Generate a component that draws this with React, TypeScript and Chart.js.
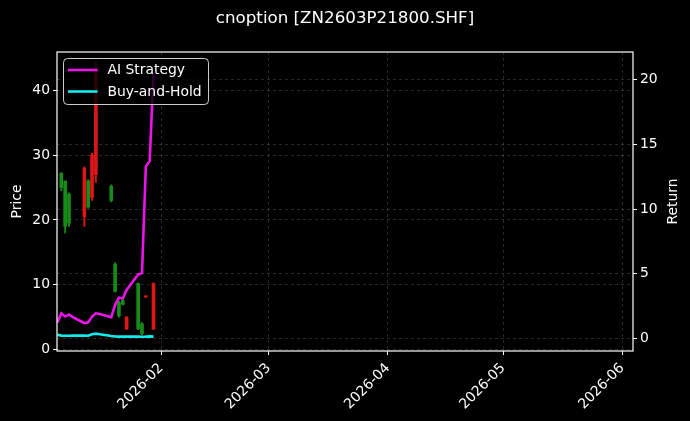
import React, { useEffect, useRef } from "react";
import { Chart, registerables } from "chart.js";

Chart.register(...registerables);

// ---- data ----
const candleDates = [
  "2026-01-06", "2026-01-07", "2026-01-08", "2026-01-12", "2026-01-13", "2026-01-14",
  "2026-01-15", "2026-01-19", "2026-01-20", "2026-01-21", "2026-01-22", "2026-01-23",
  "2026-01-26", "2026-01-27", "2026-01-28", "2026-01-30",
];
const openVals = [25.0, 19.0, 19.5, 28.0, 22.0, 30.0, 43.5, 23.0, 9.0, 5.2, 7.0, 5.0, 3.2, 2.5, 8.3, 10.2];
const highVals = [27.3, 26.0, 24.2, 28.2, 26.2, 30.3, 44.3, 25.4, 13.4, 7.5, 7.8, 5.1, 10.3, 4.2, 8.3, 10.3];
const lowVals = [24.5, 18.0, 19.0, 19.0, 21.8, 23.0, 25.8, 22.8, 8.9, 5.0, 6.9, 3.1, 3.1, 2.3, 8.1, 3.1];
const closeVals = [27.2, 26.0, 24.0, 20.5, 26.0, 23.5, 27.0, 25.2, 13.2, 7.3, 7.6, 3.2, 10.2, 4.0, 8.1, 3.2];

const lineDates = [
  "2026-01-05", "2026-01-06", "2026-01-07", "2026-01-08", "2026-01-09", "2026-01-12",
  "2026-01-13", "2026-01-14", "2026-01-15", "2026-01-16", "2026-01-19", "2026-01-20",
  "2026-01-21", "2026-01-22", "2026-01-23", "2026-01-26", "2026-01-27", "2026-01-28",
  "2026-01-29", "2026-01-30",
];
const aiStrategy = [1.25, 1.95, 1.7, 1.85, 1.65, 1.2, 1.25, 1.7, 1.95, 1.9, 1.65, 2.6, 3.15, 3.1, 3.75, 4.95, 5.05, 13.3, 13.7, 20.5];
const buyAndHold = [0.3, 0.23, 0.22, 0.22, 0.23, 0.23, 0.22, 0.33, 0.38, 0.33, 0.2, 0.17, 0.15, 0.15, 0.15, 0.15, 0.14, 0.15, 0.17, 0.15];

const monthTickDates = ["2026-02-01", "2026-03-01", "2026-04-01", "2026-05-01", "2026-06-01"];
const monthTickLabels = ["2026-02", "2026-03", "2026-04", "2026-05", "2026-06"];
const priceTicks = [0, 10, 20, 30, 40];
const returnTicks = [0, 5, 10, 15, 20];

const titleText = "cnoption [ZN2603P21800.SHF]";
const legendLabels = ["AI Strategy", "Buy-and-Hold"];

// ---- helpers ----
const dayNum = (s: string) => {
  const [y, m, d] = s.split("-").map(Number);
  return (Date.UTC(y, m - 1, d) - Date.UTC(2026, 0, 1)) / 86400000;
};

const UP = "rgb(24,140,24)";
const DOWN = "rgb(222,22,22)";
const MAGENTA = "rgb(235,20,235)";
const CYAN = "rgb(20,235,235)";
const FONT = "'DejaVu Sans', sans-serif";
const FS = 13.9;

export default function App() {
  const ref = useRef<HTMLCanvasElement | null>(null);

  useEffect(() => {
    document.body.style.margin = "0";
    document.body.style.background = "#000";
    const canvas = ref.current;
    if (!canvas) return;

    const colors = openVals.map((o, i) => (closeVals[i] >= o ? UP : DOWN));
    const wickData = candleDates.map((d, i) => ({ x: dayNum(d), y: [lowVals[i], highVals[i]] }));
    const bodyData = candleDates.map((d, i) => {
      let a = openVals[i], b = closeVals[i];
      if (Math.abs(a - b) < 0.15) { b = a - 0.15; }
      return { x: dayNum(d), y: [Math.min(a, b), Math.max(a, b)] };
    });

    const decor = {
      id: "decor",
      beforeDraw(chart: any) {
        const c = chart.ctx;
        c.save();
        c.fillStyle = "#000";
        c.fillRect(0, 0, chart.width, chart.height);
        c.restore();
      },
      afterDraw(chart: any) {
        const c = chart.ctx;
        const a = chart.chartArea;
        c.save();
        // frame
        c.strokeStyle = "#fff";
        c.lineWidth = 1.2;
        c.strokeRect(a.left, a.top, a.right - a.left, a.bottom - a.top);
        // title
        c.fillStyle = "#fff";
        c.font = `16.7px ${FONT}`;
        c.textAlign = "center";
        c.textBaseline = "middle";
        c.fillText(titleText, chart.width / 2, 18.5);
        // axis titles
        c.font = `${FS}px ${FONT}`;
        c.save();
        c.translate(17, (a.top + a.bottom) / 2);
        c.rotate(-Math.PI / 2);
        c.fillText("Price", 0, 0);
        c.restore();
        c.save();
        c.translate(673, (a.top + a.bottom) / 2);
        c.rotate(-Math.PI / 2);
        c.fillText("Return", 0, 0);
        c.restore();
        // legend
        const lx = a.left + 6.5, ly = a.top + 6.5, lw = 145, lh = 46, r = 4;
        c.beginPath();
        c.moveTo(lx + r, ly);
        c.arcTo(lx + lw, ly, lx + lw, ly + lh, r);
        c.arcTo(lx + lw, ly + lh, lx, ly + lh, r);
        c.arcTo(lx, ly + lh, lx, ly, r);
        c.arcTo(lx, ly, lx + lw, ly, r);
        c.closePath();
        c.fillStyle = "rgba(0,0,0,0.8)";
        c.fill();
        c.strokeStyle = "rgba(255,255,255,0.8)";
        c.lineWidth = 1;
        c.stroke();
        const cols = [MAGENTA, CYAN];
        legendLabels.forEach((t, i) => {
          const yy = ly + 11.5 + i * 21.5;
          c.strokeStyle = cols[i];
          c.lineWidth = 2.6;
          c.beginPath();
          c.moveTo(lx + 4.5, yy);
          c.lineTo(lx + 34, yy);
          c.stroke();
          c.fillStyle = "#fff";
          c.font = `${FS}px ${FONT}`;
          c.textAlign = "left";
          c.textBaseline = "middle";
          c.fillText(t, lx + 44, yy + 0.5);
        });
        c.restore();
      },
    };

    const gridCommon = {
      color: "rgba(255,255,255,0.2)",
      lineWidth: 0.8,
      tickColor: "#fff",
      tickLength: 4,
      tickWidth: 1,
      tickBorderDash: [],
      offset: false,
    };

    const chart = new Chart(canvas, {
      type: "bar",
      data: {
        datasets: [
          {
            type: "line",
            label: legendLabels[0],
            data: lineDates.map((d, i) => ({ x: dayNum(d), y: aiStrategy[i] })),
            yAxisID: "y1",
            borderColor: MAGENTA,
            borderWidth: 2.6,
            pointRadius: 0,
            tension: 0,
            order: 0,
          } as any,
          {
            type: "line",
            label: legendLabels[1],
            data: lineDates.map((d, i) => ({ x: dayNum(d), y: buyAndHold[i] })),
            yAxisID: "y1",
            borderColor: CYAN,
            borderWidth: 2.6,
            pointRadius: 0,
            tension: 0,
            order: 0,
          } as any,
          {
            type: "bar",
            label: "body",
            data: bodyData as any,
            yAxisID: "y",
            backgroundColor: colors,
            borderWidth: 0,
            barThickness: 3,
            grouped: false,
            order: 2,
          } as any,
          {
            type: "bar",
            label: "wick",
            data: wickData as any,
            yAxisID: "y",
            backgroundColor: colors,
            borderWidth: 0,
            barThickness: 1.2,
            grouped: false,
            order: 3,
          } as any,
        ],
      },
      options: {
        animation: false,
        responsive: false,
        maintainAspectRatio: false,
        devicePixelRatio: 1,
        layout: { padding: { top: 52, left: 0, right: 0, bottom: 0 } },
        plugins: {
          legend: { display: false },
          tooltip: { enabled: false },
          title: { display: false },
        },
        scales: {
          x: {
            type: "linear",
            min: 3.88,
            max: 153.8,
            offset: false,
            afterBuildTicks: (axis: any) => {
              axis.ticks = monthTickDates.map((d) => ({ value: dayNum(d) }));
            },
            afterFit: (axis: any) => {
              axis.height = 70;
            },
            ticks: {
              color: "#fff",
              font: { family: FONT, size: FS },
              minRotation: 45,
              maxRotation: 45,
              autoSkip: false,
              padding: 5,
              callback: (v: any) => {
                const i = monthTickDates.findIndex((d) => dayNum(d) === v);
                return i >= 0 ? monthTickLabels[i] : "";
              },
            },
            grid: gridCommon,
            border: { display: false, dash: [3, 3] },
          },
          y: {
            type: "linear",
            position: "left",
            min: -0.2,
            max: 45.9,
            afterBuildTicks: (axis: any) => {
              axis.ticks = priceTicks.map((v) => ({ value: v }));
            },
            afterFit: (axis: any) => {
              axis.width = 57;
            },
            ticks: { color: "#fff", font: { family: FONT, size: FS }, padding: 3 },
            grid: gridCommon,
            border: { display: false, dash: [3, 3] },
          },
          y1: {
            type: "linear",
            position: "right",
            min: -0.96,
            max: 22.13,
            afterBuildTicks: (axis: any) => {
              axis.ticks = returnTicks.map((v) => ({ value: v }));
            },
            afterFit: (axis: any) => {
              axis.width = 57;
            },
            ticks: { color: "#fff", font: { family: FONT, size: FS }, padding: 3 },
            grid: gridCommon,
            border: { display: false, dash: [3, 3] },
          },
        },
      } as any,
      plugins: [decor],
    });

    return () => chart.destroy();
  }, []);

  return (
    <div style={{ position: "absolute", left: 0, top: 0, width: 690, height: 421, background: "#000" }}>
      <canvas ref={ref} width={690} height={421} style={{ width: 690, height: 421, display: "block" }} />
    </div>
  );
}
